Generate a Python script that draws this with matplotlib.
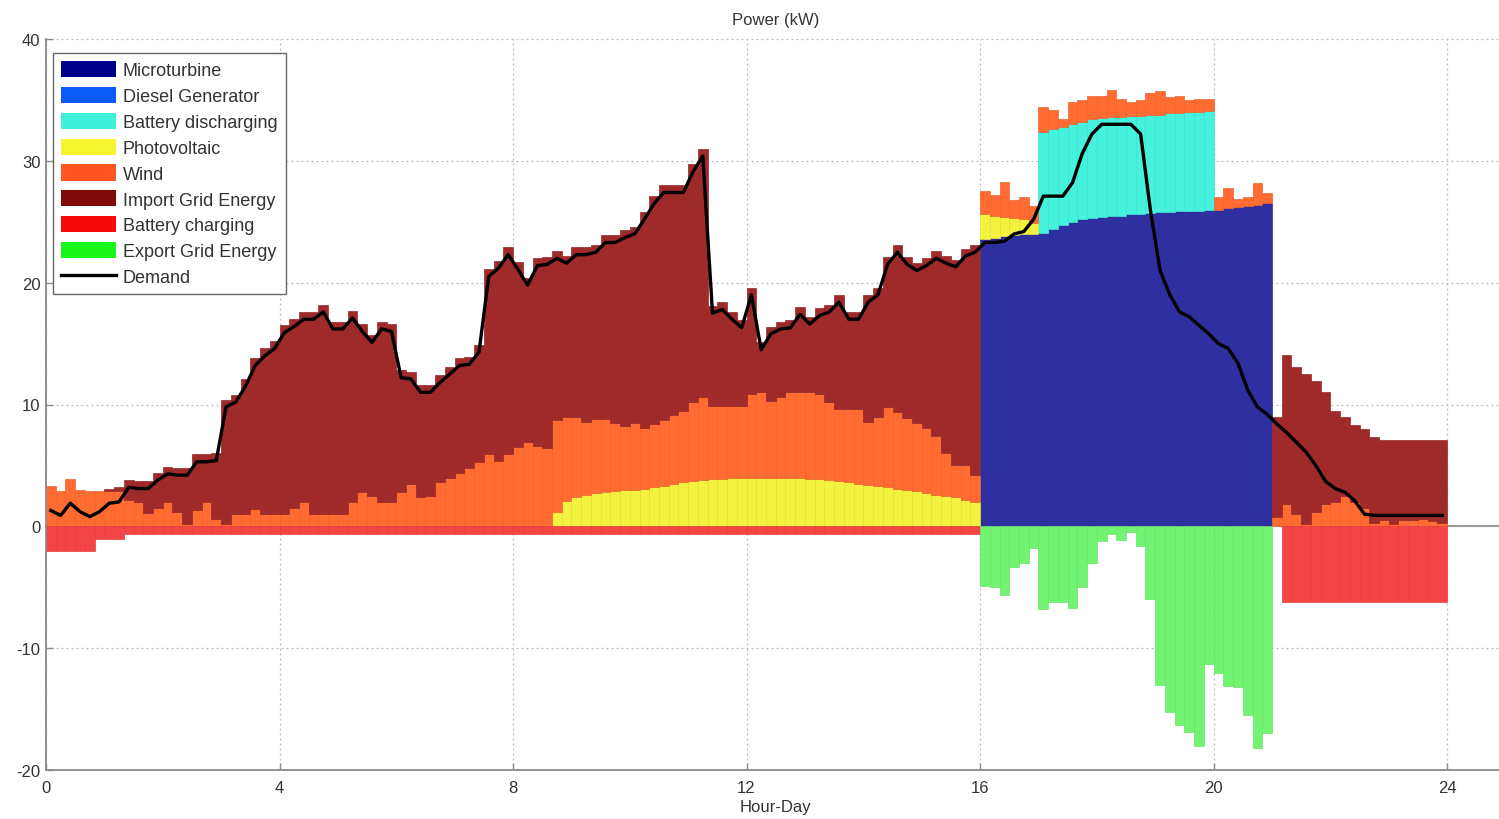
import numpy as np
import matplotlib
matplotlib.use("Agg")
import matplotlib.pyplot as plt
from matplotlib.patches import Patch
from matplotlib.lines import Line2D
import matplotlib.colors as mcolors

# ---------------- data (10-minute resolution, 144 steps) ----------------
step_h = 1 / 6
hours = np.arange(144) * step_h          # left edge of each time step

demand = [1.3, 0.9, 1.9, 1.2, 0.8, 1.2, 1.9, 2.0,
          3.2, 3.1, 3.1, 3.8, 4.3, 4.2, 4.2, 5.3,
          5.3, 5.4, 9.8, 10.2, 11.5, 13.2, 14.0, 14.6,
          15.9, 16.4, 17.0, 17.0, 17.6, 16.2, 16.2, 17.1,
          16.0, 15.1, 16.2, 16.0, 12.2, 12.1, 11.0, 11.0,
          11.8, 12.5, 13.2, 13.3, 14.3, 20.5, 21.2, 22.3,
          21.1, 19.8, 21.4, 21.5, 22.0, 21.6, 22.3, 22.3,
          22.5, 23.3, 23.3, 23.7, 24.0, 25.2, 26.5, 27.4,
          27.4, 27.4, 29.1, 30.4, 17.5, 17.8, 17.0, 16.3,
          19.0, 14.5, 15.8, 16.2, 16.3, 17.4, 16.6, 17.3,
          17.6, 18.4, 17.0, 17.0, 18.4, 19.0, 21.5, 22.5,
          21.5, 21.0, 21.4, 22.0, 21.6, 21.3, 22.2, 22.5,
          23.3, 23.3, 23.4, 24.0, 24.2, 25.2, 27.1, 27.1,
          27.1, 28.2, 30.6, 32.2, 33.0, 33.0, 33.0, 33.0,
          32.2, 26.0, 21.0, 19.0, 17.6, 17.2, 16.5, 15.8,
          15.0, 14.6, 13.4, 11.2, 9.8, 9.2, 8.4, 7.7,
          6.9, 6.1, 5.0, 3.7, 3.1, 2.8, 2.1, 1.0,
          0.9, 0.9, 0.9, 0.9, 0.9, 0.9, 0.9, 0.9]

microturbine = ([0.0] * 96 +
                [23.6, 23.7, 23.8, 23.9, 24.0, 24.0, 24.1, 24.4, 24.7, 25.0,
                 25.2, 25.3, 25.4, 25.5, 25.5, 25.6, 25.6, 25.7, 25.8, 25.8,
                 25.9, 25.9, 25.9, 26.0, 26.0, 26.1, 26.2, 26.3, 26.4, 26.5] +
                [0.0] * 18)

diesel = [0.0] * 144

battery_discharging = ([0.0] * 102 +
                       [8.3, 8.2, 8.1, 8.0, 8.0, 8.1, 8.1, 8.1, 8.1,
                        8.1, 8.1, 8.1, 8.0, 8.1, 8.0, 8.1, 8.1, 8.1] +
                       [0.0] * 24)

photovoltaic = ([0.0] * 52 +
                [1.2, 2.1, 2.4, 2.6, 2.7, 2.8, 2.9, 3.0,
                 3.0, 3.1, 3.2, 3.3, 3.5, 3.6, 3.7, 3.8,
                 3.9, 3.9, 4.0, 4.0, 4.0, 4.0, 4.0, 4.0,
                 4.0, 4.0, 3.9, 3.9, 3.8, 3.7, 3.6, 3.5,
                 3.4, 3.3, 3.2, 3.1, 3.0, 2.9, 2.7, 2.6,
                 2.5, 2.4, 2.2, 2.0,
                 2.0, 1.8, 1.6, 1.4, 1.2, 0.9] +
                [0.0] * 42)

wind = [3.3, 2.9, 3.9, 3.0, 2.9, 2.9, 2.9, 2.9,
        2.2, 2.0, 1.1, 1.5, 2.0, 1.2, 0.2, 1.3,
        2.0, 0.6, 0.2, 1.0, 1.0, 1.4, 1.0, 1.0,
        1.0, 1.5, 2.0, 1.0, 1.0, 1.0, 1.0, 2.0,
        2.8, 2.5, 2.0, 2.0, 2.8, 3.5, 2.4, 2.5,
        3.6, 4.0, 4.4, 4.8, 5.3, 5.9, 5.4, 5.9,
        6.5, 6.9, 6.6, 6.4, 7.5, 6.9, 6.6, 6.0,
        6.1, 6.0, 5.6, 5.2, 5.5, 5.0, 5.2, 5.4,
        5.6, 5.9, 6.5, 6.8, 6.0, 6.0, 5.9, 5.9,
        6.9, 7.0, 6.3, 6.6, 7.0, 7.0, 7.1, 7.0,
        6.4, 5.9, 6.0, 6.1, 5.2, 5.7, 6.6, 6.3,
        5.9, 5.6, 5.4, 4.8, 3.5, 2.6, 2.8, 2.2,
        1.9, 1.7, 2.9, 1.5, 1.8, 1.4, 2.0, 1.6,
        0.6, 1.8, 1.8, 1.9, 1.8, 2.2, 1.5, 1.1,
        1.3, 1.8, 1.9, 1.3, 1.4, 1.0, 1.1, 1.0,
        1.0, 1.7, 0.7, 0.7, 1.8, 0.9, 0.8, 1.8,
        1.0, 0.2, 1.2, 1.8, 2.0, 2.5, 2.0, 1.5,
        0.3, 0.5, 0.2, 0.5, 0.5, 0.6, 0.4, 0.3]

import_grid = ([0.0, 0.0, 0.0, 0.0, 0.0, 0.0, 0.2, 0.3,
                1.6, 1.7, 2.6, 2.9, 2.9, 3.6, 4.6, 4.6,
                3.9, 5.4, 10.2, 9.8, 11.1, 12.4, 13.6, 14.2,
                15.5, 15.5, 15.6, 16.6, 17.2, 15.8, 15.8, 15.7,
                13.8, 13.2, 14.8, 14.6, 10.0, 9.2, 9.2, 9.1,
                8.8, 9.1, 9.4, 9.1, 9.6, 15.2, 16.4, 17.0,
                15.2, 13.5, 15.4, 15.7, 13.9, 13.2, 13.9, 14.3,
                14.3, 15.1, 15.4, 16.1, 16.1, 17.7, 18.7, 19.3,
                18.9, 18.5, 19.5, 20.4, 8.2, 8.5, 7.7, 7.0,
                8.7, 4.1, 6.1, 6.2, 5.9, 7.0, 6.2, 7.0,
                8.0, 9.4, 8.0, 8.0, 10.4, 10.6, 12.3, 13.7,
                13.2, 13.1, 13.9, 15.2, 16.2, 16.9, 17.8, 18.9] +
               [0.0] * 30 +
               [8.2, 12.3, 12.1, 12.3, 10.7, 9.2, 7.5, 6.5,
                6.3, 6.5, 7.0, 6.6, 6.9, 6.6, 6.6, 6.5, 6.7, 6.8])

battery_charging = ([-2.0] * 5 + [-1.0] * 3 + [-0.6] * 88 +
                    [0.0] * 31 + [-6.2] * 17)

export_grid = ([0.0] * 96 +
               [-4.9, -5.0, -5.6, -3.3, -3.0, -1.8, -6.8, -6.2, -6.2, -6.7,
                -5.0, -3.0, -1.2, -0.6, -1.1, -0.5, -1.6, -6.0, -13.0, -15.2,
                -16.3, -16.9, -18.0, -11.3, -12.0, -13.1, -13.2, -15.5, -18.2, -17.0] +
               [0.0] * 18)

labels = ["Microturbine", "Diesel Generator", "Battery discharging", "Photovoltaic",
          "Wind", "Import Grid Energy", "Battery charging", "Export Grid Energy"]
legend_colors = ["#00008B", "#0A5AF5", "#3FF0DA", "#F5F530",
                 "#FF5522", "#7F0A0A", "#F50A0A", "#1AF51A"]
bar_colors = ["#2E30A2", "#2F6FF5", "#45F2DE", "#F4F23E",
              "#FF6B30", "#A0292A", "#F54444", "#72F472"]

# ---------------- figure ----------------
plt.rcParams['font.family'] = ['Liberation Sans', 'DejaVu Sans']
plt.rcParams['axes.unicode_minus'] = False
fig = plt.figure(figsize=(14.99, 8.2), dpi=100)
ax = fig.add_axes([46 / 1499, 49 / 820, 1459.5 / 1499, 731 / 820])


def darker(c, f=0.93):
    r, g, b = mcolors.to_rgb(c)
    return (r * f, g * f, b * f)


positive = [microturbine, diesel, battery_discharging, photovoltaic, wind, import_grid]
negative = [battery_charging, export_grid]

pos_bottom = np.zeros(len(hours))
for vals, col in zip(positive, bar_colors[:6]):
    v = np.asarray(vals, dtype=float)
    m = v != 0
    ax.bar(hours[m], v[m], width=step_h, bottom=pos_bottom[m], align='edge',
           color=col, edgecolor=darker(col), linewidth=0.5, zorder=2)
    pos_bottom += v

neg_bottom = np.zeros(len(hours))
for vals, col in zip(negative, bar_colors[6:]):
    v = np.asarray(vals, dtype=float)
    m = v != 0
    ax.bar(hours[m], v[m], width=step_h, bottom=neg_bottom[m], align='edge',
           color=col, edgecolor=darker(col), linewidth=0.5, zorder=2)
    neg_bottom += v

ax.axhline(0, color='#9a9a9a', lw=1.5, zorder=1)
ax.plot(hours + step_h / 2, demand, color='black', lw=2.4, zorder=5)

ax.set_xlim(0, 25)
ax.set_ylim(-20, 40)
ax.set_xticks(np.arange(0, 25, 4))
ax.set_yticks(np.arange(-20, 41, 10))
ax.set_axisbelow(True)
ax.grid(True, linestyle=(0, (1.5, 2.5)), color='#b8b8b8', lw=0.9)
for s in ['top', 'right']:
    ax.spines[s].set_visible(False)
for s in ['left', 'bottom']:
    ax.spines[s].set_color('#8a8a8a')
    ax.spines[s].set_linewidth(1.3)
ax.tick_params(direction='in', length=5, color='#8a8a8a', labelsize=12,
               labelcolor='#333333', width=1)
ax.tick_params(axis='x', pad=7)
ax.tick_params(axis='y', pad=4)

ax.set_title('Power (kW)', fontsize=12, color='#333333', pad=11)
ax.set_xlabel('Hour-Day', fontsize=12, color='#333333', labelpad=3)

handles = [Patch(facecolor=c, edgecolor='none') for c in legend_colors]
handles.append(Line2D([0], [0], color='black', lw=2.4))
leg = ax.legend(handles, labels + ["Demand"], loc='upper left',
                bbox_to_anchor=(0.005, 0.981), borderaxespad=0, fontsize=13,
                handlelength=3.0, handleheight=1.0, handletextpad=0.4,
                labelspacing=0.42, borderpad=0.45, fancybox=False, framealpha=1,
                edgecolor='#666666')
leg.get_frame().set_linewidth(1.0)
for t in leg.get_texts():
    t.set_color('#333333')

fig.savefig('out.png', dpi=100)
